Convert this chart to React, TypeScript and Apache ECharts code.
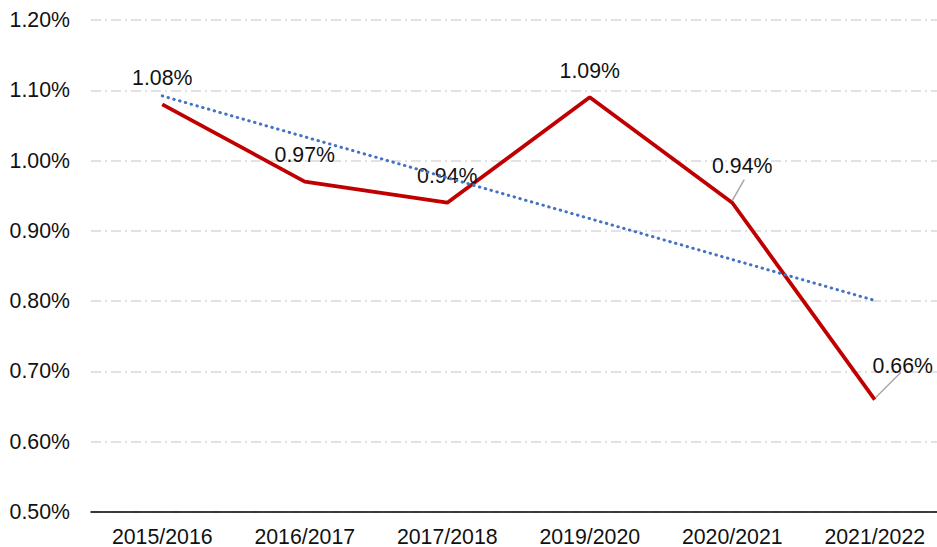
import React, { useEffect, useRef } from "react";
import * as echarts from "echarts";

const categories = ["2015/2016", "2016/2017", "2017/2018", "2019/2020", "2020/2021", "2021/2022"];
const rateValues = [1.08, 0.97, 0.94, 1.09, 0.94, 0.66];
const trendValues = [1.092, null, null, null, null, 0.801];
const yTicks = { min: 0.5, max: 1.2, interval: 0.1 };

// label nudges (pixels) and leader lines for crowded labels
const labelOffsets: Record<number, [number, number]> = { 4: [10, -10], 5: [28, -7] };
const leaderLines: Record<number, [number, number, number, number]> = {
  4: [0, -2, 12, -23],
  5: [1, -2, 26, -27],
};

export default function App() {
  const ref = useRef<HTMLDivElement>(null);
  useEffect(() => {
    if (!ref.current) return;
    const chart = echarts.init(ref.current, null, { renderer: "svg" });
    const font = "Arial, 'Liberation Sans', sans-serif";
    const rateData = rateValues.map((v, i) =>
      labelOffsets[i] ? { value: v, label: { offset: labelOffsets[i] } } : v
    );
    chart.setOption({
      animation: false,
      backgroundColor: "#ffffff",
      grid: { left: 91, right: 0, top: 20, bottom: 35, containLabel: false },
      xAxis: {
        type: "category",
        data: categories,
        boundaryGap: true,
        axisLine: { show: true, lineStyle: { color: "#000000", width: 1.5 } },
        axisTick: { show: false },
        axisLabel: { color: "#111111", fontSize: 21.3, fontFamily: font, margin: 14 },
        splitLine: { show: false },
      },
      yAxis: {
        type: "value",
        min: yTicks.min,
        max: yTicks.max,
        interval: yTicks.interval,
        axisLine: { show: false },
        axisTick: { show: false },
        axisLabel: {
          color: "#111111",
          fontSize: 21.3,
          fontFamily: font,
          margin: 21,
          formatter: (v: number) => v.toFixed(2) + "%",
        },
        splitLine: {
          show: true,
          lineStyle: { color: "#d9d9d9", width: 1.5, type: [10, 4, 2, 4] },
        },
      },
      series: [
        {
          type: "line",
          data: trendValues,
          connectNulls: true,
          symbol: "none",
          lineStyle: { color: "#4472C4", width: 3, type: [0.5, 5.5], cap: "round" },
          z: 3,
          silent: true,
        },
        {
          type: "line",
          data: rateData,
          symbol: "circle",
          showSymbol: true,
          symbolSize: 0,
          itemStyle: { color: "#C00000" },
          lineStyle: { color: "#C00000", width: 3.8 },
          z: 2,
          label: {
            show: true,
            position: "top",
            distance: 16,
            color: "#111111",
            fontSize: 21.3,
            fontFamily: font,
            formatter: (p: any) => Number(p.value).toFixed(2) + "%",
          },
        },
        {
          type: "custom",
          data: rateValues.map((v, i) => [i, v]),
          silent: true,
          z: 4,
          renderItem: (params: any, api: any) => {
            const idx = params.dataIndex;
            const l = leaderLines[idx];
            if (!l) return null;
            const pt = api.coord([api.value(0), api.value(1)]);
            return {
              type: "line",
              shape: { x1: pt[0] + l[0], y1: pt[1] + l[1], x2: pt[0] + l[2], y2: pt[1] + l[3] },
              style: { stroke: "#a6a6a6", lineWidth: 1.5 },
            };
          },
        },
      ],
    });
    return () => chart.dispose();
  }, []);
  return (
    <div
      ref={ref}
      style={{ position: "fixed", left: 0, top: 0, width: 946, height: 547, background: "#fff" }}
    />
  );
}
